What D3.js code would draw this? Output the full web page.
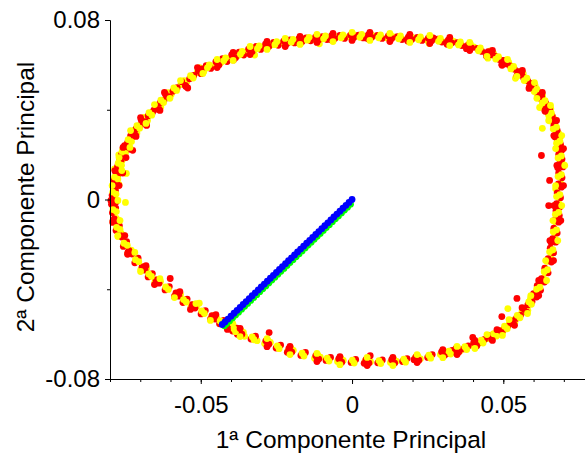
<!DOCTYPE html>
<html>
<head>
<meta charset="utf-8">
<script src="https://cdn.jsdelivr.net/npm/d3@7"></script>
<style>
  body { margin: 0; background: #fff; }
  text { font-family: "Liberation Sans", Arial, sans-serif; }
</style>
</head>
<body>
<div id="chart"></div>
<script>
// scores on the first two principal components, [PC1, PC2]
// red group
const redRing = [
  [-0.0792,0.0004],[-0.0781,-0.0012],[-0.0795,-0.0021],[-0.0790,0.0058],[-0.0778,0.0071],
  [-0.0781,0.0121],[-0.0770,0.0140],[-0.0758,0.0118],[-0.0768,0.0182],[-0.0755,0.0196],
  [-0.0752,0.0240],[-0.0741,0.0223],[-0.0725,0.0219],[-0.0728,0.0301],[-0.0716,0.0287],[-0.0732,0.0283],
  [-0.0697,0.0355],[-0.0684,0.0347],[-0.0679,0.0330],[-0.0650,0.0417],[-0.0638,0.0401],[-0.0655,0.0398],
  [-0.0617,0.0470],[-0.0603,0.0458],[-0.0563,0.0525],[-0.0551,0.0508],[-0.0543,0.0497],
  [-0.0508,0.0572],[-0.0495,0.0582],[-0.0499,0.0561],[-0.0450,0.0614],[-0.0440,0.0600],
  [-0.0398,0.0644],[-0.0385,0.0632],[-0.0392,0.0622],[-0.0342,0.0670],[-0.0330,0.0660],
  [-0.0286,0.0692],[-0.0275,0.0682],[-0.0290,0.0679],[-0.0226,0.0706],[-0.0215,0.0695],
  [-0.0176,0.0716],[-0.0165,0.0704],[-0.0180,0.0700],[-0.0121,0.0724],[-0.0110,0.0712],
  [-0.0068,0.0729],[-0.0057,0.0717],[-0.0070,0.0712],[-0.0005,0.0733],[0.0006,0.0722],
  [0.0054,0.0734],[0.0065,0.0723],[0.0052,0.0716],[0.0120,0.0729],[0.0131,0.0718],
  [0.0186,0.0724],[0.0197,0.0713],[0.0184,0.0706],[0.0252,0.0719],[0.0263,0.0708],[0.0268,0.0720],
  [0.0318,0.0710],[0.0329,0.0698],[0.0314,0.0692],[0.0384,0.0689],[0.0395,0.0676],[0.0378,0.0672],
  [0.0450,0.0659],[0.0461,0.0645],[0.0444,0.0640],[0.0500,0.0620],[0.0512,0.0604],[0.0495,0.0602],
  [0.0549,0.0570],[0.0561,0.0556],[0.0545,0.0552],[0.0590,0.0517],[0.0601,0.0502],[0.0586,0.0500],
  [0.0615,0.0471],[0.0627,0.0458],[0.0642,0.0414],[0.0653,0.0400],[0.0638,0.0398],
  [0.0658,0.0360],[0.0670,0.0346],[0.0676,0.0293],[0.0686,0.0279],[0.0670,0.0280],
  [0.0682,0.0235],[0.0693,0.0220],[0.0626,0.0196],[0.0686,0.0160],[0.0697,0.0145],[0.0680,0.0142],
  [0.0682,0.0070],[0.0692,0.0055],[0.0653,0.0085],[0.0676,-0.0019],[0.0686,-0.0034],[0.0650,-0.0027],
  [0.0673,-0.0086],[0.0683,-0.0101],[0.0663,-0.0175],[0.0673,-0.0190],[0.0658,-0.0192],
  [0.0648,-0.0264],[0.0659,-0.0279],[0.0626,-0.0353],[0.0636,-0.0368],[0.0620,-0.0370],
  [0.0600,-0.0420],[0.0610,-0.0435],[0.0567,-0.0487],[0.0577,-0.0502],[0.0545,-0.0441],
  [0.0524,-0.0540],[0.0534,-0.0555],[0.0495,-0.0522],[0.0484,-0.0585],[0.0494,-0.0600],
  [0.0451,-0.0607],[0.0461,-0.0622],[0.0399,-0.0615],[0.0402,-0.0638],[0.0412,-0.0653],
  [0.0343,-0.0665],[0.0353,-0.0680],[0.0338,-0.0679],[0.0296,-0.0679],[0.0306,-0.0694],
  [0.0211,-0.0701],[0.0221,-0.0716],[0.0205,-0.0714],[0.0131,-0.0714],[0.0141,-0.0729],
  [0.0046,-0.0714],[0.0056,-0.0729],[0.0040,-0.0730],[0.0060,-0.0696],[-0.0044,-0.0710],[-0.0034,-0.0725],
  [-0.0120,-0.0696],[-0.0110,-0.0711],[-0.0209,-0.0665],[-0.0199,-0.0680],[-0.0214,-0.0681],
  [-0.0285,-0.0630],[-0.0275,-0.0645],[-0.0274,-0.0593],[-0.0374,-0.0585],[-0.0364,-0.0600],[-0.0379,-0.0601],
  [-0.0407,-0.0558],[-0.0397,-0.0573],[-0.0463,-0.0518],[-0.0453,-0.0533],[-0.0468,-0.0534],
  [-0.0529,-0.0469],[-0.0519,-0.0484],[-0.0582,-0.0416],[-0.0572,-0.0431],[-0.0587,-0.0432],
  [-0.0648,-0.0358],[-0.0638,-0.0373],[-0.0601,-0.0352],[-0.0694,-0.0300],[-0.0684,-0.0315],
  [-0.0737,-0.0228],[-0.0727,-0.0243],[-0.0742,-0.0244],[-0.0770,-0.0153],[-0.0760,-0.0168],
  [-0.0786,-0.0086],[-0.0776,-0.0101],[-0.0791,-0.0102]
];
const redBetween = [
  [-0.0782,0.0040],[-0.0793,0.0019],[-0.0776,0.0107],[-0.0787,0.0086],[-0.0764,0.0169],[-0.0775,0.0148],
  [-0.0751,0.0221],[-0.0762,0.0200],[-0.0731,0.0274],[-0.0742,0.0253],
  [-0.0700,0.0330],[-0.0714,0.0315],[-0.0660,0.0388],[-0.0674,0.0373],[-0.0621,0.0444],[-0.0635,0.0429],
  [-0.0578,0.0498],[-0.0592,0.0483],[-0.0523,0.0553],[-0.0537,0.0538],
  [-0.0482,0.0597],[-0.0467,0.0584],[-0.0428,0.0628],[-0.0413,0.0615],[-0.0373,0.0657],[-0.0358,0.0644],
  [-0.0317,0.0682],[-0.0302,0.0669],[-0.0259,0.0700],[-0.0244,0.0687],[-0.0205,0.0711],[-0.0190,0.0698],
  [-0.0152,0.0720],[-0.0137,0.0707],[-0.0098,0.0726],[-0.0083,0.0713],[-0.0040,0.0731],[-0.0025,0.0718],
  [0.0022,0.0733],[0.0037,0.0720],[0.0084,0.0731],[0.0099,0.0718],[0.0150,0.0726],[0.0165,0.0713],
  [0.0216,0.0722],[0.0231,0.0709],[0.0282,0.0715],[0.0297,0.0702],[0.0348,0.0699],[0.0363,0.0686],
  [0.0414,0.0673],[0.0429,0.0660],
  [0.0473,0.0639],[0.0487,0.0624],[0.0523,0.0595],[0.0537,0.0580],[0.0567,0.0543],[0.0581,0.0528],
  [0.0600,0.0494],[0.0614,0.0479],[0.0627,0.0443],[0.0641,0.0428],[0.0648,0.0387],[0.0662,0.0372],
  [0.0667,0.0330],[0.0678,0.0309],[0.0678,0.0267],[0.0689,0.0246],[0.0683,0.0201],[0.0694,0.0180],
  [0.0683,0.0118],[0.0694,0.0097],[0.0678,0.0029],[0.0689,0.0008],[0.0674,-0.0050],[0.0685,-0.0071],
  [0.0667,-0.0128],[0.0678,-0.0149],[0.0655,-0.0217],[0.0666,-0.0238],[0.0637,-0.0306],[0.0648,-0.0327],
  [0.0612,-0.0384],[0.0623,-0.0405],
  [0.0595,-0.0455],[0.0581,-0.0470],[0.0557,-0.0515],[0.0543,-0.0530],[0.0515,-0.0564],[0.0501,-0.0579],
  [0.0479,-0.0597],[0.0465,-0.0612],
  [0.0423,-0.0637],[0.0438,-0.0624],[0.0369,-0.0666],[0.0384,-0.0653],[0.0316,-0.0686],[0.0331,-0.0673],
  [0.0250,-0.0704],[0.0265,-0.0691],[0.0167,-0.0722],[0.0182,-0.0709],[0.0085,-0.0728],[0.0100,-0.0715],
  [-0.0003,-0.0726],[0.0012,-0.0713],[-0.0086,-0.0717],[-0.0071,-0.0704],[-0.0169,-0.0695],[-0.0154,-0.0682],
  [-0.0251,-0.0662],[-0.0236,-0.0649],[-0.0334,-0.0622],[-0.0319,-0.0609],[-0.0395,-0.0586],[-0.0380,-0.0573],
  [-0.0438,-0.0554],[-0.0424,-0.0539],[-0.0499,-0.0510],[-0.0485,-0.0495],[-0.0559,-0.0459],[-0.0545,-0.0444],
  [-0.0618,-0.0403],[-0.0604,-0.0388],[-0.0674,-0.0345],[-0.0660,-0.0330],
  [-0.0707,-0.0261],[-0.0718,-0.0282],[-0.0745,-0.0188],[-0.0756,-0.0209],[-0.0769,-0.0117],[-0.0780,-0.0138],
  [-0.0781,-0.0038],[-0.0792,-0.0059]
];
const redSpread = [
  [-0.0797,-0.0004],[-0.0770,0.0062],[-0.0784,0.0129],[-0.0747,0.0187],[-0.0757,0.0232],
  [-0.0714,0.0281],[-0.0699,0.0365],[-0.0635,0.0397],[-0.0620,0.0477],[-0.0549,0.0504],[-0.0511,0.0588],
  [-0.0446,0.0588],[-0.0393,0.0656],[-0.0337,0.0646],[-0.0281,0.0705],[-0.0221,0.0682],[-0.0172,0.0727],
  [-0.0116,0.0700],[-0.0063,0.0740],[0,0.0709],[0.0059,0.0745],[0.0125,0.0704],[0.0191,0.0736],
  [0.0257,0.0695],[0.0323,0.0722],[0.0389,0.0664],
  [0.0464,0.0664],[0.0496,0.0598],[0.0563,0.0575],[0.0585,0.0495],[0.0629,0.0477],[0.0638,0.0393],
  [0.0676,0.0352],[0.0667,0.0285],[0.0699,0.0227],[0.0677,0.0152],[0.0699,0.0062],[0.0667,-0.0027],
  [0.0690,-0.0094],[0.0654,-0.0183],[0.0666,-0.0272],[0.0617,-0.0361],[0.0617,-0.0428],
  [0.0562,-0.0482],[0.0537,-0.0561],[0.0479,-0.0580],[0.0464,-0.0628],
  [0.0406,-0.0628],[0.0347,-0.0691],[0.0300,-0.0669],[0.0215,-0.0727],[0.0135,-0.0704],[0.0050,-0.0740],
  [-0.0040,-0.0700],[-0.0116,-0.0722],[-0.0205,-0.0655],[-0.0281,-0.0656],[-0.0370,-0.0575],
  [-0.0412,-0.0579],[-0.0450,-0.0513],[-0.0534,-0.0490],[-0.0569,-0.0411],[-0.0653,-0.0379],[-0.0681,-0.0295],
  [-0.0741,-0.0236],[-0.0751,-0.0161],[-0.0790,-0.0094]
];

// yellow group
const yellowRing = [
  [-0.0786,0.0008],[-0.0776,-0.0006],[-0.0790,-0.0030],[-0.0749,-0.0013],
  [-0.0782,0.0049],[-0.0770,0.0066],[-0.0788,0.0079],
  [-0.0774,0.0110],[-0.0785,0.0136],[-0.0766,0.0131],[-0.0746,0.0116],
  [-0.0760,0.0175],[-0.0771,0.0199],[-0.0750,0.0186],[-0.0745,0.0246],[-0.0757,0.0228],[-0.0738,0.0235],
  [-0.0720,0.0308],[-0.0711,0.0296],[-0.0726,0.0279],[-0.0688,0.0366],[-0.0694,0.0340],[-0.0676,0.0352],
  [-0.0640,0.0422],[-0.0632,0.0412],[-0.0648,0.0405],[-0.0608,0.0476],[-0.0614,0.0455],[-0.0598,0.0467],
  [-0.0555,0.0530],[-0.0566,0.0512],[-0.0547,0.0521],[-0.0504,0.0588],[-0.0490,0.0570],[-0.0512,0.0566],
  [-0.0443,0.0620],[-0.0452,0.0598],[-0.0434,0.0609],[-0.0389,0.0650],[-0.0401,0.0630],[-0.0378,0.0641],
  [-0.0335,0.0676],[-0.0345,0.0658],[-0.0326,0.0667],[-0.0322,0.0644],
  [-0.0279,0.0698],[-0.0270,0.0688],[-0.0284,0.0676],[-0.0219,0.0711],[-0.0230,0.0697],[-0.0210,0.0703],
  [-0.0170,0.0720],[-0.0160,0.0712],[-0.0168,0.0699],
  [-0.0114,0.0728],[-0.0124,0.0713],[-0.0104,0.0720],[-0.0108,0.0694],
  [-0.0061,0.0733],[-0.0050,0.0724],[-0.0066,0.0719],[0.0002,0.0737],[-0.0010,0.0726],[0.0012,0.0730],
  [0.0061,0.0738],[0.0070,0.0729],[0.0048,0.0728],[0.0127,0.0733],[0.0116,0.0720],[0.0138,0.0725],
  [0.0193,0.0729],[0.0203,0.0720],[0.0182,0.0715],
  [0.0259,0.0724],[0.0248,0.0710],[0.0270,0.0714],[0.0255,0.0695],
  [0.0325,0.0715],[0.0336,0.0705],[0.0312,0.0703],[0.0391,0.0693],[0.0402,0.0680],[0.0380,0.0683],
  [0.0457,0.0662],[0.0468,0.0650],[0.0447,0.0652],[0.0449,0.0630],
  [0.0508,0.0621],[0.0518,0.0611],[0.0498,0.0611],
  [0.0557,0.0572],[0.0566,0.0561],[0.0547,0.0561],[0.0540,0.0540],
  [0.0597,0.0518],[0.0605,0.0509],[0.0588,0.0509],
  [0.0623,0.0474],[0.0630,0.0462],[0.0612,0.0462],[0.0620,0.0410],
  [0.0650,0.0416],[0.0657,0.0404],[0.0640,0.0406],
  [0.0666,0.0362],[0.0673,0.0351],[0.0655,0.0350],[0.0629,0.0317],
  [0.0683,0.0295],[0.0690,0.0284],[0.0672,0.0288],[0.0689,0.0237],[0.0696,0.0226],[0.0679,0.0225],
  [0.0693,0.0162],[0.0684,0.0150],[0.0699,0.0155],
  [0.0689,0.0072],[0.0678,0.0060],[0.0695,0.0064],[0.0673,0.0048],
  [0.0683,-0.0017],[0.0690,-0.0029],[0.0672,-0.0025],[0.0680,-0.0084],[0.0670,-0.0098],[0.0687,-0.0092],
  [0.0670,-0.0173],[0.0677,-0.0185],[0.0660,-0.0181],[0.0656,-0.0262],[0.0645,-0.0276],[0.0663,-0.0270],
  [0.0633,-0.0351],[0.0640,-0.0362],[0.0622,-0.0359],
  [0.0607,-0.0418],[0.0596,-0.0432],[0.0614,-0.0427],[0.0590,-0.0440],
  [0.0574,-0.0485],[0.0562,-0.0498],[0.0581,-0.0494],[0.0515,-0.0486],
  [0.0531,-0.0538],[0.0520,-0.0552],[0.0538,-0.0547],[0.0491,-0.0583],[0.0480,-0.0597],[0.0498,-0.0592],
  [0.0458,-0.0605],[0.0447,-0.0620],[0.0465,-0.0614],[0.0409,-0.0636],[0.0398,-0.0650],[0.0416,-0.0645],
  [0.0350,-0.0663],[0.0358,-0.0674],[0.0340,-0.0671],[0.0303,-0.0677],[0.0292,-0.0691],[0.0311,-0.0686],
  [0.0218,-0.0699],[0.0226,-0.0710],[0.0208,-0.0707],[0.0138,-0.0712],[0.0127,-0.0726],[0.0146,-0.0721],
  [0.0053,-0.0712],[0.0061,-0.0723],[0.0043,-0.0720],[-0.0037,-0.0708],[-0.0048,-0.0722],[-0.0029,-0.0717],
  [-0.0113,-0.0694],[-0.0124,-0.0708],[-0.0105,-0.0703],[-0.0202,-0.0663],[-0.0213,-0.0677],[-0.0194,-0.0672],
  [-0.0278,-0.0628],[-0.0289,-0.0642],[-0.0270,-0.0637],[-0.0314,-0.0629],
  [-0.0367,-0.0583],[-0.0378,-0.0597],[-0.0359,-0.0592],[-0.0355,-0.0610],
  [-0.0400,-0.0556],[-0.0411,-0.0570],[-0.0392,-0.0565],[-0.0456,-0.0516],[-0.0467,-0.0530],[-0.0448,-0.0525],
  [-0.0522,-0.0467],[-0.0533,-0.0481],[-0.0514,-0.0476],[-0.0505,-0.0462],
  [-0.0575,-0.0414],[-0.0586,-0.0428],[-0.0567,-0.0423],[-0.0641,-0.0356],[-0.0652,-0.0370],[-0.0633,-0.0365],
  [-0.0687,-0.0298],[-0.0698,-0.0312],[-0.0679,-0.0307],[-0.0730,-0.0226],[-0.0741,-0.0240],[-0.0722,-0.0235],
  [-0.0763,-0.0151],[-0.0774,-0.0165],[-0.0755,-0.0160],[-0.0779,-0.0084],[-0.0790,-0.0098],[-0.0771,-0.0093]
];
const yellowBetween = [
  [-0.0791,0.0033],[-0.0780,0.0024],[-0.0785,0.0100],[-0.0774,0.0091],[-0.0773,0.0162],[-0.0762,0.0153],
  [-0.0760,0.0214],[-0.0749,0.0205],[-0.0740,0.0267],[-0.0729,0.0258],
  [-0.0711,0.0329],[-0.0702,0.0318],[-0.0671,0.0387],[-0.0662,0.0376],[-0.0632,0.0443],[-0.0623,0.0432],
  [-0.0589,0.0497],[-0.0580,0.0486],[-0.0534,0.0552],[-0.0525,0.0541],
  [-0.0472,0.0600],[-0.0478,0.0587],[-0.0418,0.0631],[-0.0424,0.0618],[-0.0363,0.0660],[-0.0369,0.0647],
  [-0.0307,0.0685],[-0.0313,0.0672],[-0.0249,0.0703],[-0.0255,0.0690],[-0.0195,0.0714],[-0.0201,0.0701],
  [-0.0142,0.0723],[-0.0148,0.0710],[-0.0088,0.0729],[-0.0094,0.0716],[-0.0030,0.0734],[-0.0036,0.0721],
  [0.0032,0.0736],[0.0026,0.0723],[0.0094,0.0734],[0.0088,0.0721],[0.0160,0.0729],[0.0154,0.0716],
  [0.0226,0.0725],[0.0220,0.0712],[0.0292,0.0718],[0.0286,0.0705],[0.0358,0.0702],[0.0352,0.0689],
  [0.0424,0.0676],[0.0418,0.0663],
  [0.0484,0.0637],[0.0475,0.0626],[0.0534,0.0593],[0.0525,0.0582],[0.0578,0.0541],[0.0569,0.0530],
  [0.0611,0.0492],[0.0602,0.0481],[0.0638,0.0441],[0.0629,0.0430],[0.0659,0.0385],[0.0650,0.0374],
  [0.0676,0.0323],[0.0665,0.0314],[0.0687,0.0260],[0.0676,0.0251],[0.0692,0.0194],[0.0681,0.0185],
  [0.0692,0.0111],[0.0681,0.0102],[0.0687,0.0022],[0.0676,0.0013],[0.0683,-0.0057],[0.0672,-0.0066],
  [0.0676,-0.0135],[0.0665,-0.0144],[0.0664,-0.0224],[0.0653,-0.0233],[0.0646,-0.0313],[0.0635,-0.0322],
  [0.0621,-0.0391],[0.0610,-0.0400],
  [0.0584,-0.0456],[0.0593,-0.0467],[0.0546,-0.0516],[0.0555,-0.0527],[0.0504,-0.0565],[0.0513,-0.0576],
  [0.0468,-0.0598],[0.0477,-0.0609],
  [0.0433,-0.0640],[0.0427,-0.0627],[0.0379,-0.0669],[0.0373,-0.0656],[0.0326,-0.0689],[0.0320,-0.0676],
  [0.0260,-0.0707],[0.0254,-0.0694],[0.0177,-0.0725],[0.0171,-0.0712],[0.0095,-0.0731],[0.0089,-0.0718],
  [0.0007,-0.0729],[0.0001,-0.0716],[-0.0076,-0.0720],[-0.0082,-0.0707],[-0.0159,-0.0698],[-0.0165,-0.0685],
  [-0.0241,-0.0665],[-0.0247,-0.0652],[-0.0324,-0.0625],[-0.0330,-0.0612],[-0.0385,-0.0589],[-0.0391,-0.0576],
  [-0.0427,-0.0552],[-0.0436,-0.0541],[-0.0488,-0.0508],[-0.0497,-0.0497],[-0.0548,-0.0457],[-0.0557,-0.0446],
  [-0.0607,-0.0401],[-0.0616,-0.0390],[-0.0663,-0.0343],[-0.0672,-0.0332],
  [-0.0716,-0.0268],[-0.0705,-0.0277],[-0.0754,-0.0195],[-0.0743,-0.0204],[-0.0778,-0.0124],[-0.0767,-0.0133],
  [-0.0790,-0.0045],[-0.0779,-0.0054]
];
const yellowSpread = [
  [-0.0774,-0.0004],[-0.0793,0.0062],[-0.0761,0.0129],[-0.0770,0.0187],[-0.0734,0.0232],
  [-0.0732,0.0307],[-0.0681,0.0339],[-0.0653,0.0423],[-0.0602,0.0451],[-0.0567,0.0530],[-0.0493,0.0562],
  [-0.0446,0.0624],[-0.0393,0.0620],[-0.0337,0.0682],[-0.0281,0.0669],[-0.0221,0.0718],[-0.0172,0.0691],
  [-0.0116,0.0736],[-0.0063,0.0704],[0,0.0745],[0.0059,0.0709],[0.0125,0.0740],[0.0191,0.0700],
  [0.0257,0.0731],[0.0323,0.0686],[0.0389,0.0700],
  [0.0446,0.0638],[0.0514,0.0624],[0.0545,0.0549],[0.0603,0.0521],[0.0611,0.0451],[0.0656,0.0419],
  [0.0650,0.0352],[0.0693,0.0285],[0.0673,0.0227],[0.0703,0.0152],[0.0673,0.0062],[0.0693,-0.0027],
  [0.0664,-0.0094],[0.0680,-0.0183],[0.0640,-0.0272],[0.0643,-0.0361],[0.0591,-0.0428],
  [0.0580,-0.0508],[0.0519,-0.0535],[0.0497,-0.0606],[0.0446,-0.0602],
  [0.0406,-0.0664],[0.0347,-0.0655],[0.0300,-0.0705],[0.0215,-0.0691],[0.0135,-0.0740],[0.0050,-0.0704],
  [-0.0040,-0.0736],[-0.0116,-0.0686],[-0.0205,-0.0691],[-0.0281,-0.0620],[-0.0370,-0.0611],
  [-0.0394,-0.0553],[-0.0468,-0.0539],[-0.0516,-0.0464],[-0.0587,-0.0437],[-0.0635,-0.0353],[-0.0699,-0.0321],
  [-0.0718,-0.0236],[-0.0774,-0.0161],[-0.0767,-0.0094]
];

// green and blue groups (straight run from the origin)
const greenPoints = [
  [-0.0005,-0.0021],[-0.0015,-0.0034],[-0.0025,-0.0047],[-0.0035,-0.0060],[-0.0045,-0.0073],
  [-0.0055,-0.0086],[-0.0065,-0.0099],[-0.0075,-0.0112],[-0.0085,-0.0125],[-0.0095,-0.0138],
  [-0.0105,-0.0151],[-0.0115,-0.0164],[-0.0125,-0.0177],[-0.0135,-0.0190],[-0.0145,-0.0203],
  [-0.0155,-0.0216],[-0.0165,-0.0229],[-0.0175,-0.0242],[-0.0185,-0.0255],[-0.0195,-0.0268],
  [-0.0205,-0.0281],[-0.0215,-0.0294],[-0.0225,-0.0307],[-0.0235,-0.0320],[-0.0245,-0.0333],
  [-0.0255,-0.0346],[-0.0265,-0.0359],[-0.0275,-0.0372],[-0.0285,-0.0385],[-0.0295,-0.0398],
  [-0.0305,-0.0411],[-0.0315,-0.0424],[-0.0325,-0.0437],[-0.0335,-0.0450],[-0.0345,-0.0463],
  [-0.0355,-0.0476],[-0.0365,-0.0489],[-0.0375,-0.0502],[-0.0385,-0.0515],[-0.0395,-0.0528],
  [-0.0405,-0.0541],[-0.0415,-0.0554],[-0.0422,-0.0563]
];

const bluePoints = [
  [0,0],[-0.0010,-0.0013],[-0.0020,-0.0026],[-0.0030,-0.0039],[-0.0040,-0.0052],
  [-0.0050,-0.0065],[-0.0060,-0.0078],[-0.0070,-0.0091],[-0.0080,-0.0104],[-0.0090,-0.0117],
  [-0.0100,-0.0130],[-0.0110,-0.0143],[-0.0120,-0.0156],[-0.0130,-0.0169],[-0.0140,-0.0182],
  [-0.0150,-0.0195],[-0.0160,-0.0208],[-0.0170,-0.0221],[-0.0180,-0.0234],[-0.0190,-0.0247],
  [-0.0200,-0.0260],[-0.0210,-0.0273],[-0.0220,-0.0286],[-0.0230,-0.0299],[-0.0240,-0.0312],
  [-0.0250,-0.0325],[-0.0260,-0.0338],[-0.0270,-0.0351],[-0.0280,-0.0364],[-0.0290,-0.0377],
  [-0.0300,-0.0390],[-0.0310,-0.0403],[-0.0320,-0.0416],[-0.0330,-0.0429],[-0.0340,-0.0442],
  [-0.0350,-0.0455],[-0.0360,-0.0468],[-0.0370,-0.0481],[-0.0380,-0.0494],[-0.0390,-0.0507],
  [-0.0400,-0.0520],[-0.0410,-0.0533],[-0.0420,-0.0546],[-0.0429,-0.0557]
];

const xTicks = [-0.05, 0, 0.05];
const xMinorTicks = [-0.08, -0.07, -0.06, -0.05, -0.04, -0.03, -0.02, -0.01, 0, 0.01, 0.02, 0.03, 0.04, 0.05, 0.06, 0.07];
const yTicks = [-0.08, 0, 0.08];
const yMinorTicks = [-0.04, 0.04];

var width = 585,
    height = 455;

var svg = d3.select("#chart")
  .append("svg")
    .attr("width", width)
    .attr("height", height);

var x = d3.scaleLinear().domain([-0.08, 0.077]).range([110, 585]);
var y = d3.scaleLinear().domain([-0.08, 0.08]).range([379, 20]);

var RED = "#ff0000", YELLOW = "#ffff00";

function drawPoints(data, colour) {
  svg.append("g")
    .selectAll("circle")
    .data(data)
    .enter()
    .append("circle")
      .attr("cx", function(d) { return x(d[0]); })
      .attr("cy", function(d) { return y(d[1]); })
      .attr("r", 3.4)
      .attr("fill", colour);
}
// mix the layering of the two ring groups a bit
drawPoints(yellowRing, YELLOW);
drawPoints(redRing, RED);
drawPoints(redBetween, RED);
drawPoints(yellowBetween, YELLOW);
drawPoints(redSpread, RED);
drawPoints(yellowSpread, YELLOW);
drawPoints(greenPoints, "#00ff00");
drawPoints(bluePoints, "#0000ff");

// axes
var fmt = function(d) { return String(d); };

svg.append("g")
  .attr("transform", "translate(0,379)")
  .call(d3.axisBottom(x).tickValues(xMinorTicks).tickSize(3).tickSizeOuter(0).tickFormat(""));
svg.append("g")
  .attr("transform", "translate(0,379)")
  .call(d3.axisBottom(x).tickValues(xTicks).tickSize(5).tickSizeOuter(0).tickPadding(12).tickFormat(fmt));

svg.append("g")
  .attr("transform", "translate(110,0)")
  .call(d3.axisLeft(y).tickValues(yMinorTicks).tickSize(3).tickSizeOuter(0).tickFormat(""));
svg.append("g")
  .attr("transform", "translate(110,0)")
  .call(d3.axisLeft(y).tickValues(yTicks).tickSize(5).tickSizeOuter(0).tickPadding(5).tickFormat(fmt));

svg.selectAll(".tick text")
  .attr("font-family", "'Liberation Sans', Arial, sans-serif")
  .attr("font-size", 24)
  .attr("fill", "#000");

// axis titles
svg.append("text")
  .attr("x", 351)
  .attr("y", 448)
  .attr("text-anchor", "middle")
  .style("font-size", "24.5px")
  .text("1ª Componente Principal");

svg.append("text")
  .attr("transform", "translate(34,197) rotate(-90)")
  .attr("text-anchor", "middle")
  .style("font-size", "24.5px")
  .text("2ª Componente Principal");
</script>
</body>
</html>
